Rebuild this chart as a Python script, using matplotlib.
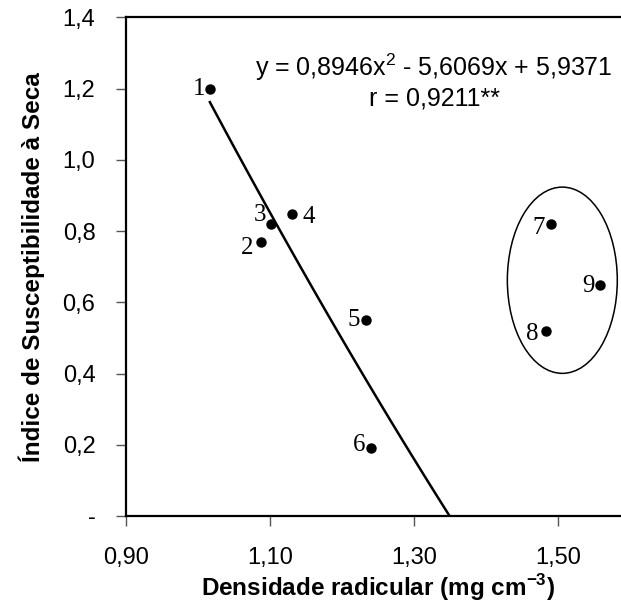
import matplotlib
matplotlib.use("Agg")
import matplotlib.pyplot as plt
from matplotlib.patches import Ellipse
import numpy as np

plt.rcParams['font.family'] = ['Liberation Sans', 'DejaVu Sans']
plt.rcParams['mathtext.fontset'] = 'custom'
plt.rcParams['mathtext.rm'] = 'Liberation Sans'
plt.rcParams['mathtext.bf'] = 'Liberation Sans:bold'

# data
labels = ['1', '2', '3', '4', '5', '6', '7', '8', '9']
densidade = [1.0165, 1.088, 1.102, 1.131, 1.234, 1.240, 1.490, 1.484, 1.559]
indice = [1.199, 0.769, 0.819, 0.848, 0.550, 0.190, 0.819, 0.520, 0.649]
# label offsets in pixels (dx, dy)
lab_off = [(-11, 0), (-14, -6), (-11, 9), (16, -3), (-13, 0),
           (-12, 3), (-12, -4), (-14, -3), (-12, -1)]

# fitted curve printed on the chart
coef = [0.8946, -5.6069, 5.9371]
x_start = 1.0165

xticks = [0.90, 1.10, 1.30, 1.50]
xticklabels = ['0,90', '1,10', '1,30', '1,50']
yticks = [0, 0.2, 0.4, 0.6, 0.8, 1.0, 1.2, 1.4]
yticklabels = ['-', '0,2', '0,4', '0,6', '0,8', '1,0', '1,2', '1,4']

fig = plt.figure(figsize=(6.21, 6.04), dpi=100)
ax = fig.add_axes([0.2029, 0.1457, 0.8116, 0.8255])

# trend line down to where it hits zero
x_end = min(np.roots(coef).real)
xs = np.linspace(x_start, x_end, 100)
ax.plot(xs, np.polyval(coef, xs), color='black', lw=1.8, zorder=2)

ax.plot(densidade, indice, 'o', color='black', ms=6.5, zorder=3)
for lb, x, y, (dx, dy) in zip(labels, densidade, indice, lab_off):
    ax.annotate(lb, (x, y), xytext=(dx, dy), textcoords='offset pixels',
                ha='center', va='center', fontsize=18,
                family=['Liberation Serif', 'DejaVu Serif'])

ax.add_patch(Ellipse((1.506, 0.662), 0.1527, 0.523, fill=False,
                     ec='black', lw=1.1))

ax.text(1.328, 1.261, 'y = 0,8946x$^2$ - 5,6069x + 5,9371',
        ha='center', va='center', fontsize=18)
ax.text(1.328, 1.171, 'r = 0,9211**', ha='center', va='center', fontsize=18)

ax.set_xlim(0.9, 1.6)
ax.set_ylim(0, 1.4)
ax.set_xticks(xticks)
ax.set_xticklabels(xticklabels)
ax.set_yticks(yticks)
ax.set_yticklabels(yticklabels)
ax.tick_params(direction='out', length=7, width=1, color='#555555',
               labelsize=17, pad=15)
for sp in ax.spines.values():
    sp.set_linewidth(1.6)

ax.set_xlabel(r'Densidade radicular (mg cm$^{\mathbf{-3}}$)',
              fontsize=17.5, fontweight='bold')
ax.set_ylabel('Índice de Susceptibilidade à Seca',
              fontsize=17.5, fontweight='bold')
ax.xaxis.set_label_coords(0.5, -0.113)
ax.yaxis.set_label_coords(-0.1865, 0.5)
ax.xaxis.label.set_va('top')
ax.yaxis.label.set_va('center')

fig.savefig('out.png', dpi=100)
